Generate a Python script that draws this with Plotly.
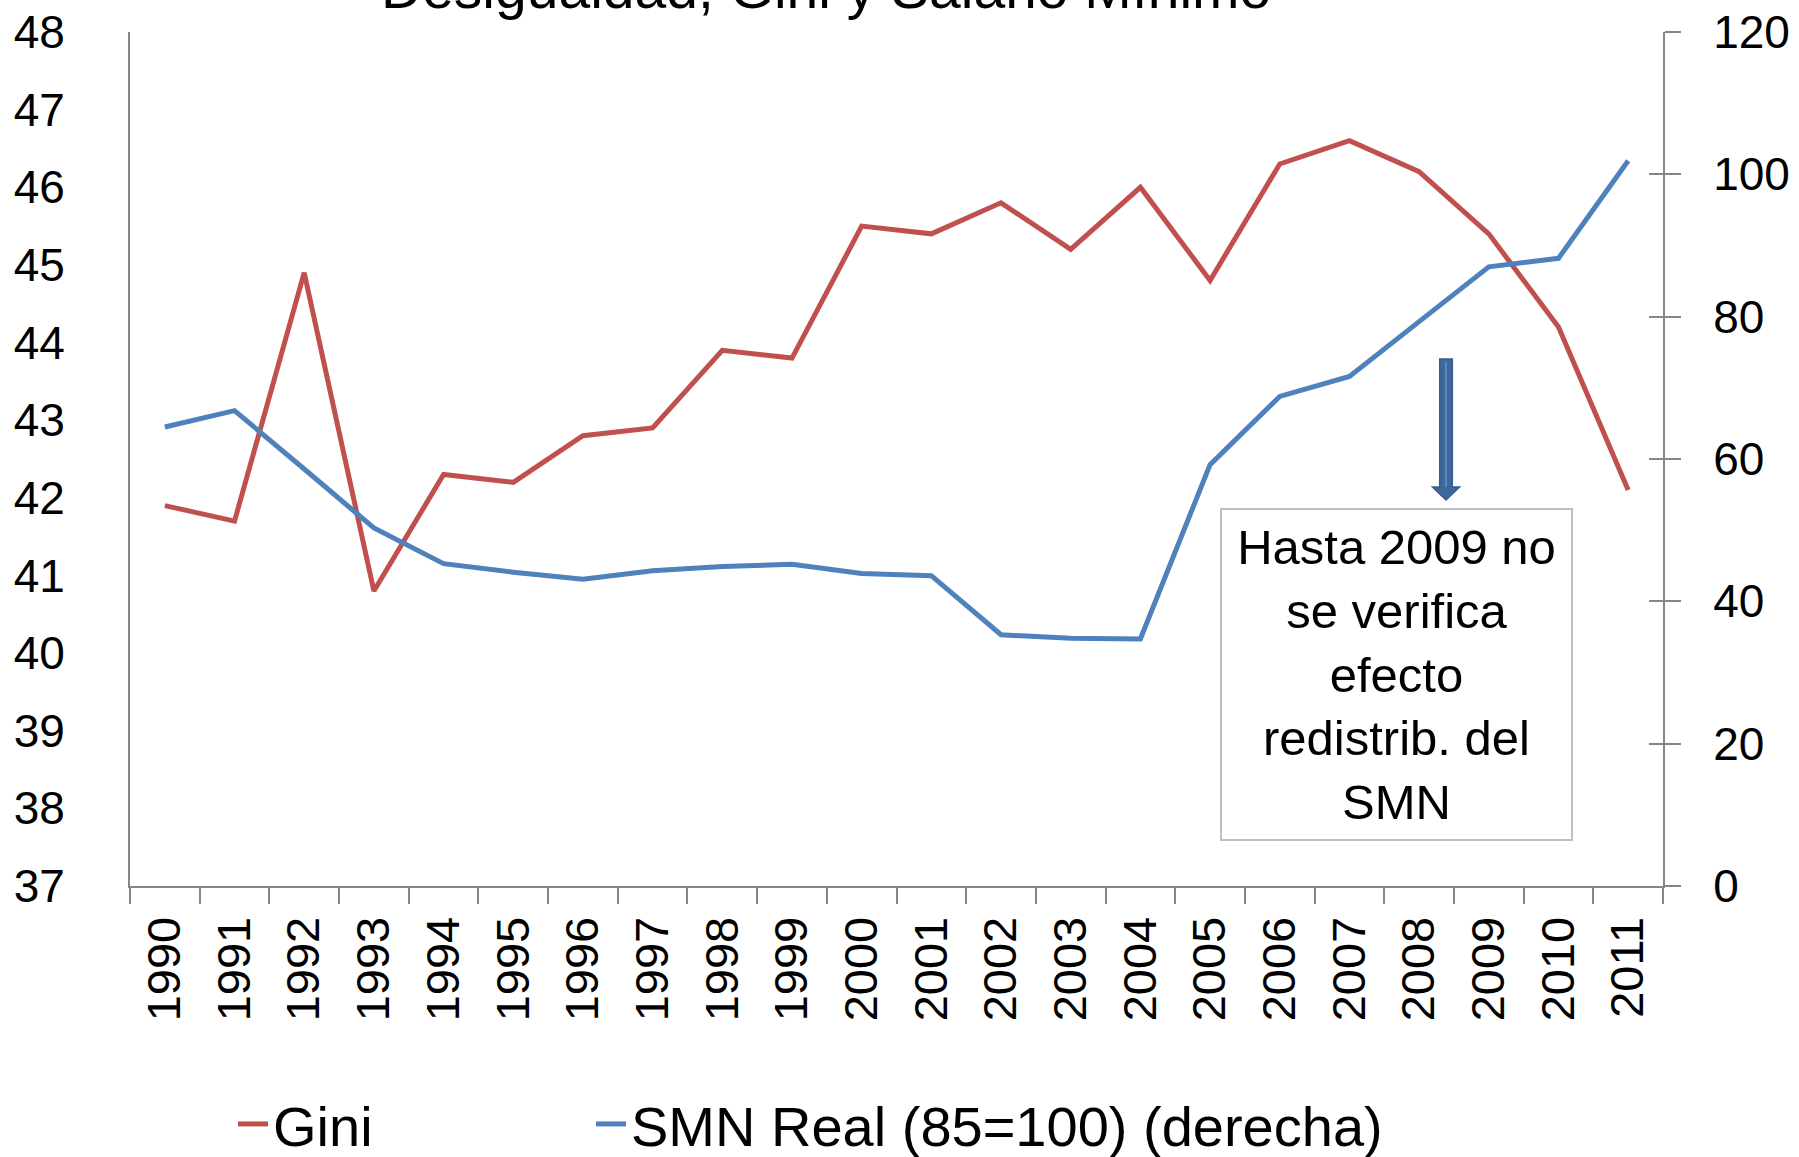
import plotly.graph_objects as go

# ---- data ----
years = [str(y) for y in range(1990, 2012)]
gini = [41.9, 41.7, 44.9, 40.8, 42.3, 42.2, 42.8, 42.9, 43.9, 43.8, 45.5,
        45.4, 45.8, 45.2, 46.0, 44.8, 46.3, 46.6, 46.2, 45.4, 44.2, 42.1]
smn = [64.5, 66.8, 58.6, 50.3, 45.3, 44.1, 43.1, 44.3, 44.9, 45.2, 43.9,
       43.6, 35.3, 34.8, 34.7, 59.2, 68.8, 71.6, 79.3, 87.0, 88.2, 101.9]
left_ticks = list(range(37, 49))
right_ticks = list(range(0, 121, 20))

title_text = "Desigualdad, Gini y Salario Mínimo"
note_text = "Hasta 2009 no<br>se verifica<br>efecto<br>redistrib. del<br>SMN"
gini_name = "Gini"
smn_name = "SMN Real (85=100) (derecha)"

# ---- geometry ----
W, H = 1799, 1157
L, R, T, B = 130, 136, 32, 271
PW = W - L - R
PH = H - T - B
BOT = H - B

def px(X):
    return (X - L) / PW

def py(Y):
    return (BOT - Y) / PH

FONT = "Liberation Sans"
AXC = "#868686"
RED = "#C0504D"
BLUE = "#4F81BD"

fig = go.Figure()
fig.add_trace(go.Scatter(x=years, y=gini, name=gini_name, mode="lines",
                         line=dict(color=RED, width=5), yaxis="y",
                         legend="legend"))
fig.add_trace(go.Scatter(x=years, y=smn, name=smn_name, mode="lines",
                         line=dict(color=BLUE, width=5), yaxis="y2",
                         legend="legend2"))
# empty helper trace so the inner half of the right-axis ticks is drawn
fig.add_trace(go.Scatter(x=[years[0]], y=[None], yaxis="y3", mode="lines",
                         showlegend=False, hoverinfo="skip"))

leg_common = dict(orientation="h", yanchor="middle", y=py(1124),
                  xanchor="left",
                  font=dict(family=FONT, size=56, color="black"),
                  bgcolor="rgba(0,0,0,0)", borderwidth=0)

fig.update_layout(
    width=W, height=H,
    margin=dict(l=L, r=R, t=T, b=B, pad=0, autoexpand=False),
    paper_bgcolor="white", plot_bgcolor="white",
    font=dict(family=FONT, color="black"),
    showlegend=True,
    legend=dict(x=px(233), **leg_common),
    legend2=dict(x=px(591), **leg_common),
    xaxis=dict(type="category", range=[-0.5, len(years) - 0.5],
               tickson="boundaries", ticks="outside", ticklen=16,
               tickwidth=2, tickcolor=AXC, showline=True, linecolor=AXC,
               linewidth=2, showgrid=False, zeroline=False, tickangle=-90,
               ticklabelstandoff=10, automargin=False,
               tickfont=dict(family=FONT, size=47, color="black")),
    yaxis=dict(range=[37, 48], tickvals=left_ticks, ticks="",
               showline=True, linecolor=AXC, linewidth=2, showgrid=False,
               zeroline=False, ticklabelstandoff=54, automargin=False,
               tickfont=dict(family=FONT, size=46, color="black")),
    yaxis2=dict(range=[0, 120], tickvals=right_ticks, overlaying="y",
                side="right", anchor="x", ticks="outside", ticklen=16,
                tickwidth=2, tickcolor=AXC, showline=True, linecolor=AXC,
                linewidth=2, showgrid=False, zeroline=False,
                ticklabelstandoff=23, automargin=False,
                tickfont=dict(family=FONT, size=46, color="black")),
    yaxis3=dict(range=[0, 120], tickvals=right_ticks, overlaying="y",
                side="right", anchor="x", ticks="inside", ticklen=14,
                tickwidth=2, tickcolor=AXC, showline=False,
                showticklabels=False, showgrid=False, zeroline=False,
                automargin=False),
)

# title (partly cut off at top as in the reference)
fig.add_annotation(text=title_text, xref="paper", yref="paper",
                   x=px(826), y=py(22), xanchor="center", yanchor="bottom",
                   showarrow=False,
                   font=dict(family=FONT, size=57, color="black"))

# note box
fig.add_annotation(text=note_text, xref="paper", yref="paper",
                   x=px(1396), y=py(674.5), xanchor="center", yanchor="middle",
                   showarrow=False, align="center",
                   width=349, height=329, borderpad=0,
                   bordercolor="#BFBFBF", borderwidth=2, bgcolor="white",
                   font=dict(family=FONT, size=49, color="black"))

# block arrow
cx, top, neck, tip, hw, hh = 1446, 359, 487, 500, 6.3, 13.5
pts = [(cx - hw, top), (cx + hw, top), (cx + hw, neck), (cx + hh, neck),
       (cx, tip), (cx - hh, neck), (cx - hw, neck)]
path = "M " + " L ".join(f"{px(a):.5f},{py(b):.5f}" for a, b in pts) + " Z"
fig.add_shape(type="path", path=path, xref="paper", yref="paper",
              fillcolor="#3E679B", line=dict(color="#385D8A", width=1.5))
fig.add_shape(type="line", xref="paper", yref="paper",
              x0=px(cx), x1=px(cx), y0=py(top + 3), y1=py(neck),
              line=dict(color="#5B87C0", width=2))

fig.write_html("out.html", config={"displayModeBar": False},
               post_script="document.body.style.margin='0';document.body.style.overflow='hidden';")
